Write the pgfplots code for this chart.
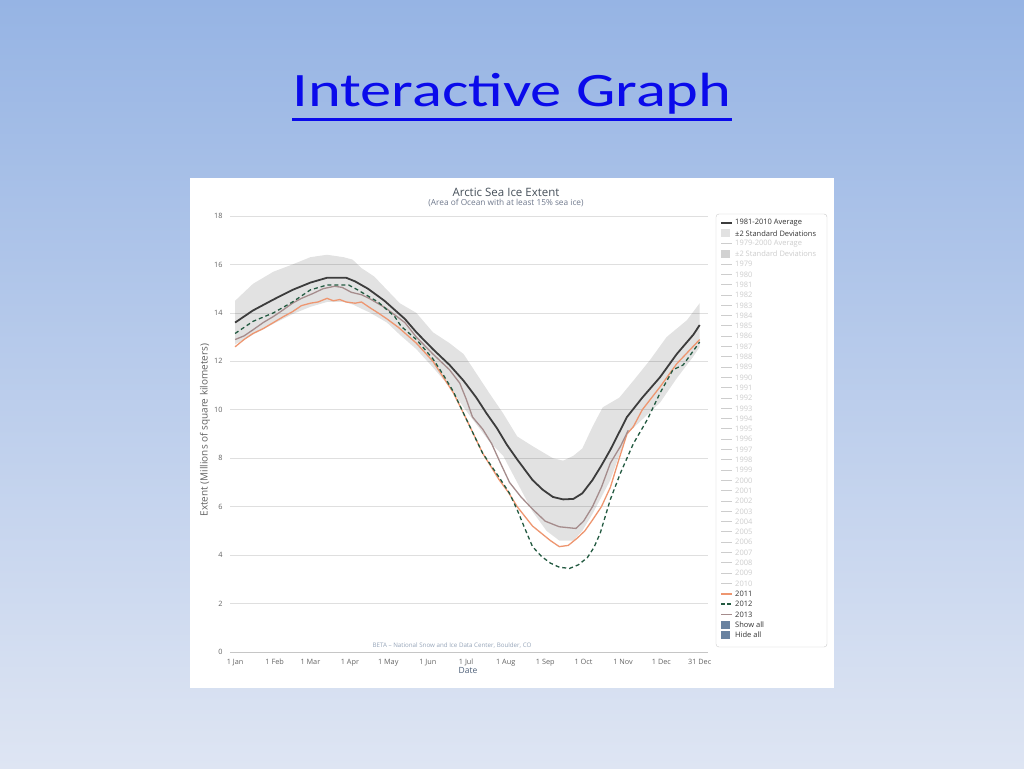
\documentclass[border=0pt]{standalone}
\usepackage{fontspec}
\setmainfont{Open Sans}
\newfontfamily\carlito{Carlito}
\usepackage{pgfplots}
\pgfplotsset{compat=1.18}
\definecolor{bgtop}{RGB}{150,180,228}
\definecolor{bgbot}{RGB}{222,229,243}
\definecolor{avgc}{RGB}{60,60,60}
\definecolor{c2011}{RGB}{238,150,112}
\definecolor{c2012}{RGB}{35,90,65}
\definecolor{c2013}{RGB}{165,140,140}
\definecolor{bandc}{RGB}{226,226,226}
\definecolor{faded}{RGB}{205,205,205}
\definecolor{slate}{RGB}{105,130,160}
\definecolor{ticklab}{RGB}{100,100,100}
\definecolor{titleblue}{RGB}{10,10,235}
\definecolor{credit}{RGB}{150,165,185}
\definecolor{datec}{RGB}{77,95,120}
\begin{document}
\begin{tikzpicture}[x=1pt,y=1pt]
\shade[top color=bgtop, bottom color=bgbot] (0,0) rectangle (1024,768);
\fill[white] (190,80) rectangle (834,590);
\node[anchor=base, font=\carlito\fontsize{48}{58}\selectfont, text=titleblue, inner sep=0] (T) at (512,661) {\scalebox{1.3}[1]{Interactive Graph}};
\draw[titleblue, line width=3pt] ([yshift=-13pt]T.base west) -- ([yshift=-13pt]T.base east);
\node[font=\fontsize{11.5}{13}\selectfont, text={rgb,255:red,70;green,80;blue,90}] at (506,576) {Arctic Sea Ice Extent};
\node[font=\fontsize{8.3}{9}\selectfont, text={rgb,255:red,110;green,120;blue,140}] at (506,565) {(Area of Ocean with at least 15\% sea ice)};
\begin{axis}[
  at={(230pt,116pt)}, anchor=south west,
  scale only axis, width=478pt, height=436pt,
  xmin=-3, xmax=371.5, ymin=0, ymax=18,
  axis y line*=left, axis x line*=bottom,
  y axis line style={draw=none},
  x axis line style={draw=gray!45, line width=0.8pt},
  ytick={0,2,...,18},
  ymajorgrids, major grid style={draw=gray!25, line width=0.7pt},
  xtick={1,32,60,91,121,152,182,213,244,274,305,335,365},
  xticklabels={1 Jan,1 Feb,1 Mar,1 Apr,1 May,1 Jun,1 Jul,1 Aug,1 Sep,1 Oct,1 Nov,1 Dec,31 Dec},
  major tick length=0pt,
  tick label style={font=\fontsize{7.3}{8}\selectfont, text=ticklab},
  xticklabel style={text height=1.6ex, text depth=0.3ex},
  /pgf/number format/assume math mode=true,
  yticklabel style={xshift=-4pt},
]
% +-2 standard deviation band (upper edge, then lower edge reversed)
\addplot[fill=black, fill opacity=0.115, draw=none] coordinates {(1,14.5)(15,15.2)(31,15.7)(46,16.0)(60,16.3)(73,16.4)(86,16.3)(93,16.2)(100,15.85)(110,15.5)(120,14.95)(130,14.4)(143,14.0)(156,13.2)(169,12.75)(180,12.3)(190,11.5)(200,10.7)(211,9.85)(222,8.9)(234,8.5)(250,8.0)(258,7.9)(266,8.1)(273,8.4)(281,9.3)(289,10.1)(302,10.5)(313,11.2)(326,12.05)(339,13.0)(355,13.7)(365,14.4)
(365,12.6)(360,12.2)(347,11.3)(334,10.3)(320,9.6)(308,9.0)(295,7.1)(281,5.7)(273,5.0)(266,4.6)(255,4.6)(245,5.0)(234,5.8)(222,7.0)(211,8.1)(200,8.7)(190,9.4)(180,10.1)(169,10.95)(156,11.75)(143,12.5)(130,13.1)(120,13.6)(107,14.0)(93,14.35)(86,14.45)(73,14.45)(60,14.25)(46,13.95)(31,13.55)(15,13.1)(1,12.7)} -- cycle;
% 2011
\addplot[c2011, line width=1.3pt] coordinates {(1,12.6)(8,12.9)(15,13.15)(23,13.35)(31,13.6)(39,13.85)(46,14.05)(53,14.3)(60,14.4)(66,14.45)(73,14.6)(78,14.5)(83,14.55)(88,14.45)(95,14.4)(100,14.45)(107,14.2)(113,14.0)(120,13.75)(129,13.4)(143,12.75)(156,12.0)(164,11.35)(172,10.7)(180,9.85)(185,9.3)(195,8.2)(208,7.1)(215,6.6)(222,6.0)(234,5.2)(248,4.6)(255,4.35)(262,4.4)(269,4.7)(275,5.0)(281,5.45)(288,6.0)(295,6.8)(302,8.0)(308,9.0)(313,9.3)(320,10.0)(334,10.95)(347,11.9)(356,12.4)(365,12.9)};
% 2013
\addplot[c2013, line width=1.3pt] coordinates {(1,12.9)(8,13.05)(15,13.3)(23,13.6)(31,13.85)(38,14.1)(46,14.4)(53,14.6)(62,14.8)(70,15.0)(79,15.1)(85,15.05)(92,14.85)(100,14.75)(106,14.6)(119,14.2)(134,13.6)(143,13.0)(156,12.3)(169,11.65)(177,11.1)(182,10.45)(187,9.7)(195,9.2)(202,8.6)(208,7.9)(216,7.0)(225,6.4)(234,5.9)(244,5.4)(255,5.17)(268,5.1)(274,5.4)(281,6.0)(288,6.8)(295,7.8)(303,8.5)(309,9.15)};
% 2012
\addplot[c2012, line width=1.3pt, dash pattern=on 4pt off 3pt] coordinates {(1,13.15)(15,13.65)(31,14.0)(46,14.45)(60,14.95)(73,15.15)(90,15.15)(97,14.95)(113,14.45)(126,13.85)(131,13.45)(143,12.9)(156,12.1)(164,11.45)(172,10.75)(180,9.85)(195,8.2)(208,7.2)(216,6.55)(222,5.87)(228,5.1)(234,4.35)(241,3.95)(248,3.67)(255,3.5)(263,3.45)(270,3.6)(277,3.9)(282,4.3)(287,4.9)(295,6.3)(303,7.4)(313,8.6)(324,9.6)(334,10.7)(344,11.65)(352,11.85)(365,12.8)};
% 1981-2010 average
\addplot[avgc, line width=1.8pt] coordinates {(1,13.6)(15,14.1)(31,14.55)(46,14.95)(60,15.25)(73,15.45)(88,15.45)(95,15.3)(105,15.0)(118,14.5)(134,13.75)(143,13.2)(156,12.5)(169,11.85)(180,11.2)(190,10.5)(198,9.85)(206,9.25)(214,8.55)(222,7.95)(234,7.1)(242,6.7)(250,6.4)(258,6.3)(266,6.32)(273,6.55)(281,7.1)(288,7.7)(295,8.35)(308,9.7)(320,10.5)(334,11.35)(347,12.3)(360,13.1)(365,13.5)};
\end{axis}
\node[rotate=90, font=\fontsize{10}{11}\selectfont, text=ticklab] at (205,338) {Extent (Millions of square kilometers)};
\node[font=\fontsize{8.5}{9}\selectfont, text=datec] at (468,97) {Date};
\node[font=\fontsize{6.2}{7}\selectfont, text=credit] at (452,122) {BETA -- National Snow and Ice Data Center, Boulder, CO};
% legend
\draw[gray!40, rounded corners=3pt, fill=white] (716,121) rectangle (827,554);
\def\lf{\fontsize{7.5}{8}\selectfont}
\draw[avgc, line width=1.8pt] (721,545) -- (732,545);
\node[anchor=west, inner sep=0, font=\lf, text=black!80] at (735,545) {1981-2010 Average};
\fill[bandc] (721,530.7) rectangle (730,538.7);
\node[anchor=west, inner sep=0, font=\lf, text=black!80] at (735,534.7) {±2 Standard Deviations};
\draw[faded, line width=1pt] (721,524.4) -- (732,524.4);
\node[anchor=west, inner sep=0, font=\lf, text=faded] at (735,524.4) {1979-2000 Average};
\fill[gray!35] (721,510.1) rectangle (730,518.1);
\node[anchor=west, inner sep=0, font=\lf, text=faded] at (735,514.1) {±2 Standard Deviations};
\foreach \yr [count=\i from 4] in {1979,...,2010} {
  \pgfmathsetmacro\yy{545-10.3*\i}
  \draw[faded, line width=1pt] (721,\yy) -- (732,\yy);
  \node[anchor=west, inner sep=0, font=\lf, text=faded] at (735,\yy) {\yr};
}
\pgfmathsetmacro\yy{545-10.3*36}
\draw[c2011, line width=1.5pt] (721,\yy) -- (732,\yy);
\node[anchor=west, inner sep=0, font=\lf, text=black!80] at (735,\yy) {2011};
\pgfmathsetmacro\yy{545-10.3*37}
\draw[c2012, line width=1.5pt, dash pattern=on 4pt off 2pt] (721,\yy) -- (732,\yy);
\node[anchor=west, inner sep=0, font=\lf, text=black!80] at (735,\yy) {2012};
\pgfmathsetmacro\yy{545-10.3*38}
\draw[c2013, line width=1.5pt] (721,\yy) -- (732,\yy);
\node[anchor=west, inner sep=0, font=\lf, text=black!80] at (735,\yy) {2013};
\pgfmathsetmacro\yy{545-10.3*39}
\fill[slate] (721,\yy-4) rectangle (730,\yy+4);
\node[anchor=west, inner sep=0, font=\lf, text=black!80] at (735,\yy) {Show all};
\pgfmathsetmacro\yy{545-10.3*40}
\fill[slate] (721,\yy-4) rectangle (730,\yy+4);
\node[anchor=west, inner sep=0, font=\lf, text=black!80] at (735,\yy) {Hide all};
\end{tikzpicture}
\end{document}
